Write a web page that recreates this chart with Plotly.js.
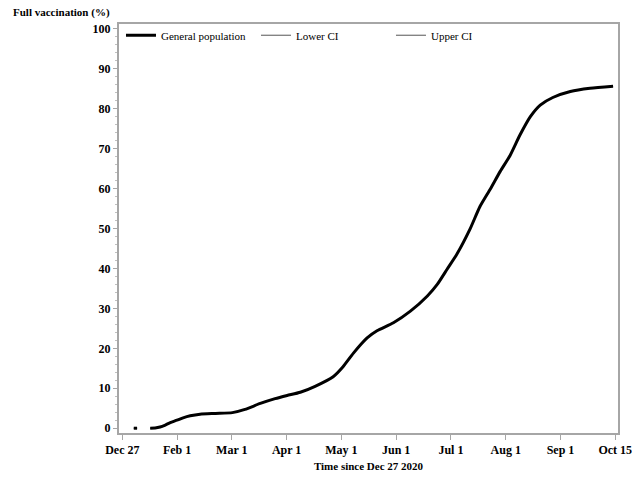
<!DOCTYPE html>
<html>
<head>
<meta charset="utf-8">
<script src="https://cdn.plot.ly/plotly-3.0.1.min.js"></script>
<style>html,body{margin:0;padding:0;background:#fff;}#chart{width:632px;height:479px;}</style>
</head>
<body>
<div id="chart"></div>
<script>
// x position in tick-interval units (0 = Dec 27, 1 = Feb 1, ... 9 = Oct 15)
const tickLabels = ["Dec 27","Feb 1","Mar 1","Apr 1","May 1","Jun 1","Jul 1","Aug 1","Sep 1","Oct 15"];
const tickPos = [0,1,2,3,4,5,6,7,8,9];

const timeIdx = [0.21,0.27,null,
  0.51,0.60,0.69,0.785,0.876,0.998,1.11,1.24,1.42,1.70,2.01,2.24,2.52,2.79,3.01,3.25,3.52,3.85,4.03,
  4.22,4.47,4.65,4.95,5.26,5.57,5.75,5.93,6.11,6.35,6.53,6.72,6.90,7.08,7.26,7.45,7.63,7.86,8.18,8.54,8.96];
const general = [0,0,null,
  0,0.05,0.3,0.8,1.4,2.0,2.6,3.1,3.5,3.7,3.9,4.7,6.2,7.4,8.2,9.0,10.5,12.9,15.4,
  18.8,22.6,24.4,26.4,29.3,33.1,36.0,39.8,43.6,49.9,55.5,59.9,64.3,68.3,73.4,78.0,80.9,82.8,84.3,85.1,85.6];
const lowerCI = general;
const upperCI = general;

const serif = "'Liberation Serif', 'DejaVu Serif', serif";

const traces = [
  {x: timeIdx, y: lowerCI, name: "Lower CI", mode: "lines", legendrank: 2,
   line: {color: "#555", width: 1, shape: "spline", smoothing: 0.6}, connectgaps: false},
  {x: timeIdx, y: upperCI, name: "Upper CI", mode: "lines", legendrank: 3,
   line: {color: "#555", width: 1, shape: "spline", smoothing: 0.6}, connectgaps: false},
  {x: timeIdx, y: general, name: "General population", mode: "lines", legendrank: 1,
   line: {color: "#000", width: 3, shape: "spline", smoothing: 0.6}, connectgaps: false}
];

const layout = {
  width: 632, height: 479,
  margin: {l: 119, r: 14, t: 24, b: 46},
  paper_bgcolor: "#fff", plot_bgcolor: "#fff",
  showlegend: true,
  legend: {orientation: "h", x: 0.004, y: 1.008, xanchor: "left", yanchor: "top",
    font: {family: serif, size: 11, color: "#000"}, bgcolor: "rgba(0,0,0,0)",
    entrywidth: 90, entrywidthmode: "pixels", traceorder: "normal"},
  xaxis: {
    range: [-0.06, 9.05], tickvals: tickPos, ticktext: tickLabels,
    showgrid: false, zeroline: false, showline: true, mirror: true,
    linecolor: "#a6a6a6", linewidth: 2, ticks: "outside", ticklen: 5, tickwidth: 1, tickcolor: "#a6a6a6",
    ticklabeloverflow: "allow",
    tickfont: {family: serif, size: 12, color: "#000", weight: "bold"},
    title: {text: "Time since Dec 27 2020", font: {family: serif, size: 11, color: "#000", weight: "bold"}, standoff: 6}
  },
  yaxis: {
    range: [-1.2, 101.2], tickvals: [0,10,20,30,40,50,60,70,80,90,100],
    showgrid: false, zeroline: false, showline: true, mirror: true,
    linecolor: "#a6a6a6", linewidth: 2, ticks: "outside", ticklen: 4, tickwidth: 1, tickcolor: "#a6a6a6",
    minor: {dtick: 2, tick0: 0, ticks: "outside", ticklen: 2, tickcolor: "#c0c0c0", showgrid: false},
    tickfont: {family: serif, size: 12, color: "#000", weight: "bold"}
  },
  annotations: [{
    text: "Full vaccination (%)", xref: "paper", yref: "paper",
    x: -0.216, y: 1.028, xanchor: "left", yanchor: "middle", showarrow: false,
    font: {family: serif, size: 11, color: "#000", weight: "bold"}
  }]
};

Plotly.newPlot("chart", traces, layout, {staticPlot: true, displayModeBar: false});
</script>
</body>
</html>
